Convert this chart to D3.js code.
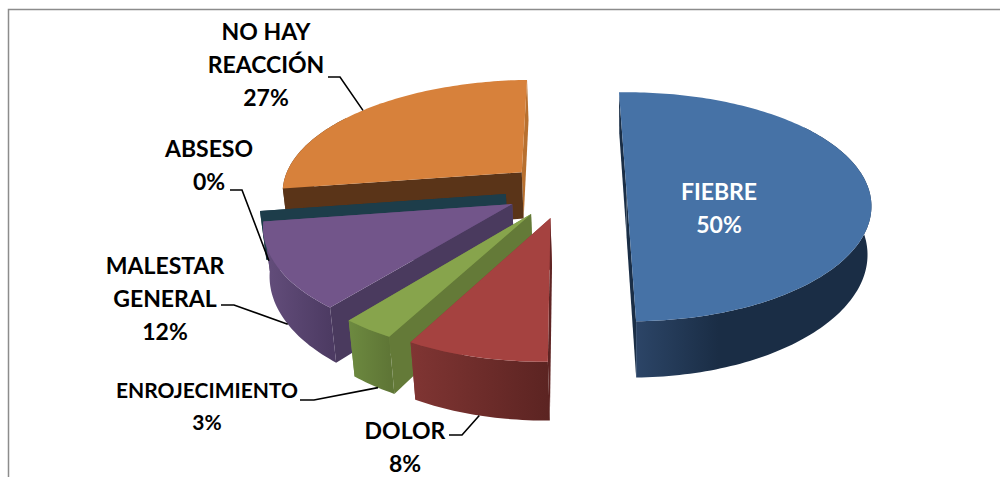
<!DOCTYPE html>
<html>
<head>
<meta charset="utf-8">
<script src="https://cdn.jsdelivr.net/npm/d3@7"></script>
<style>
html, body { margin: 0; padding: 0; background: #fff; }
svg { display: block; }
text { font-family: Lato, "Open Sans", sans-serif; font-weight: 700; }
</style>
</head>
<body>
<div id="chart"></div>
<script>
// Reaction categories and their shares, in clockwise pie order
const categories = ["FIEBRE", "DOLOR", "ENROJECIMIENTO", "MALESTAR GENERAL", "ABSESO", "NO HAY REACCIÓN"];
const values = [50, 8, 3, 12, 0, 27];

// Fill colours per category: top face, radial walls, rim gradient ends
const topColors  = ["#4672a6", "#a54240", "#87a44c", "#72558a", "#3d8fa8", "#d7813b"];
const wallColors = ["#1a2e46", "#5e2423", "#647a38", "#4a3a5e", "#1d3d4a", "#5a3418"];
const endWallColors = ["#1a2e46", "#8a3735", "#708a40", "#5f4a75", "#1d3d4a", "#b8702f"];
const rimLight   = ["#2c4567", "#803533", "#6d8a40", "#644e7c", "#1d3d4a", "#5a3418"];
const rimDark    = ["#1a2d45", "#5c2422", "#5f7636", "#4d3b63", "#1d3d4a", "#5a3418"];

// Back-to-front drawing order of the slices
const paintOrder = [5, 4, 3, 2, 1, 0];

// Perspective set-up, in units of one pie radius
const W = 1000, H = 477;
const vanishX = 566, horizonY = -534;
const focalX = 1738, camDistX = 7.2;
const focalY = 4687, camDist = 6.476;
const roll = 2.7;
const explode = 0.25;
const extrude = 308, dropVanishX = 640, dropVanishY = 3100;

const pieLayout = d3.pie().sort(null).value(d => d)
  .startAngle(0).endAngle(2 * Math.PI);
const arcs = pieLayout(values);

// Ground-plane point → screen point
function project(X, Y) {
  return [vanishX + focalX * X / (camDistX + Y),
          horizonY + focalY / (camDist + Y) - roll * X];
}
// Top-face point → matching point on the underside
function lower(X, Y) {
  const [sx, sy] = project(X, Y);
  const depth = extrude / (camDist + Y);
  return [sx - (sx - dropVanishX) * depth / (dropVanishY - sy), sy + depth];
}
// Ground coordinates of a polar point inside an exploded slice
function ground(a, angle, r) {
  const mid = (a.startAngle + a.endAngle) / 2;
  return [explode * Math.sin(mid) + r * Math.sin(angle),
          explode * Math.cos(mid) + r * Math.cos(angle)];
}
const apexOf = a => ground(a, 0, 0);
function rimAngles(a) {
  const n = Math.max(2, Math.ceil((a.endAngle - a.startAngle) / 0.02));
  return d3.range(n + 1).map(i => a.startAngle + (a.endAngle - a.startAngle) * i / n);
}

const line = d3.line();
const svg = d3.select("#chart").append("svg").attr("width", W).attr("height", H);
const defs = svg.append("defs");

// Chart frame: top and left rules
svg.append("path")
  .attr("d", line([[8.5, 477], [8.5, 9.5], [1000, 9.5]]))
  .attr("fill", "none").attr("stroke", "#8c8c8c").attr("stroke-width", 1.5);

const slices = svg.append("g");
paintOrder.forEach(i => {
  const a = arcs[i];
  const g = slices.append("g").attr("class", "slice");
  const apex = apexOf(a);
  const angles = rimAngles(a);
  const rim = angles.map(t => ground(a, t, 1));
  const first = rim[0], last = rim[rim.length - 1];

  // Radial walls
  g.append("path")
    .attr("d", line([project(...apex), project(...last), lower(...last), lower(...apex)]) + "Z")
    .attr("fill", endWallColors[i]);
  g.append("path")
    .attr("d", line([project(...apex), project(...first), lower(...first), lower(...apex)]) + "Z")
    .attr("fill", wallColors[i]);

  // Only the viewer-facing stretch of the rim, shaded left to right
  const front = angles.map((t, k) => ({ t, p: rim[k] }))
    .filter(d => d.t > Math.PI * 0.3 && d.t < Math.PI * 1.7)
    .map(d => d.p);
  if (a.endAngle > a.startAngle && front.length > 1) {
    const top = front.map(p => project(...p));
    const bot = front.map(p => lower(...p)).reverse();
    const xs = top.map(p => p[0]);
    const gradId = "rim" + i;
    const grad = defs.append("linearGradient").attr("id", gradId)
      .attr("gradientUnits", "userSpaceOnUse")
      .attr("x1", d3.min(xs)).attr("x2", d3.max(xs)).attr("y1", 0).attr("y2", 0);
    grad.append("stop").attr("offset", 0).attr("stop-color", rimLight[i]);
    grad.append("stop").attr("offset", i === 0 ? 0.35 : 1).attr("stop-color", rimDark[i]);
    g.append("path").attr("d", line(top.concat(bot)) + "Z").attr("fill", `url(#${gradId})`);
  }

  // Top face
  g.append("path")
    .attr("d", line([project(...apex)].concat(rim.map(p => project(...p)))) + "Z")
    .attr("fill", topColors[i]);
});

// Label text lines with their centre, first baseline, size and colour
const labelLines = [
  ["FIEBRE", "50%"],
  ["DOLOR", "8%"],
  ["ENROJECIMIENTO", "3%"],
  ["MALESTAR", "GENERAL", "12%"],
  ["ABSESO", "0%"],
  ["NO HAY", "REACCIÓN", "27%"]
];
const labelX = [719, 405, 207, 165, 209, 266];
const labelBase = [200, 439, 398, 274, 157, 40];
const labelSize = [23, 23, 21, 23, 23, 23];
const lineGap = [33, 33, 32, 33, 33, 33];
const labelFill = ["#fff", "#000", "#000", "#000", "#000", "#000"];

const labels = svg.append("g");
categories.forEach((c, i) => {
  const t = labels.append("text").attr("text-anchor", "middle")
    .attr("font-size", labelSize[i]).attr("fill", labelFill[i]);
  labelLines[i].forEach((s, k) => {
    t.append("tspan").attr("x", labelX[i]).attr("y", labelBase[i] + k * lineGap[i]).text(s);
  });
});

// Leader lines: elbow from the label to a point on the slice it names
const leaders = [
  { owner: 5, deg: 311.4, low: false, from: [328, 77], knee: [340, 77] },
  { owner: 3, deg: 248,   low: false, extra: 8, from: [230, 190], knee: [242, 190] },
  { owner: 3, deg: 239,   low: true,  from: [221, 305], knee: [234, 305] },
  { owner: 2, deg: 213,   low: true,  from: [300, 400], knee: [314, 400] },
  { owner: 1, deg: 194.4, low: true,  from: [449, 435], knee: [462, 435] }
];
leaders.forEach(l => {
  const p = ground(arcs[l.owner], l.deg * Math.PI / 180, 1);
  const end = l.low ? lower(...p) : project(...p);
  if (l.extra) end[1] += l.extra;
  svg.append("path").attr("d", line([l.from, l.knee, end]))
    .attr("fill", "none").attr("stroke", "#000").attr("stroke-width", 1.6);
});
</script>
</body>
</html>
